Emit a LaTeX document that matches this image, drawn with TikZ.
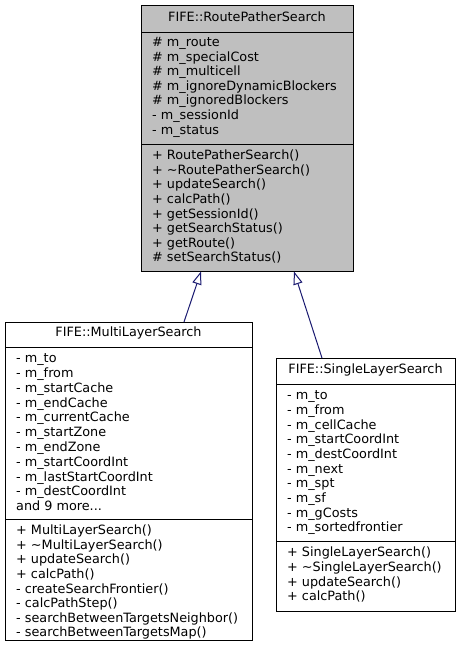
\documentclass[tikz,border=0pt]{standalone}
\usepackage{fontspec}
\setmainfont{DejaVu Sans}
\usetikzlibrary{arrows.meta}
\definecolor{boxgray}{HTML}{BFBFBF}
\definecolor{edgeblue}{HTML}{191970}
\begin{document}
\begin{tikzpicture}[x=1pt,y=1pt,
  classbox/.style={draw=black, line width=1pt, rectangle, anchor=north west, inner sep=0pt, outer sep=0pt},
  divider/.style={line width=1pt},
  member/.style={anchor=west, inner sep=0pt, font=\fontsize{12.8}{14}\selectfont, text height=9.5pt, text depth=2.7pt},
  titletext/.style={anchor=center, inner sep=0pt, font=\fontsize{12.8}{14}\selectfont, text height=9.5pt, text depth=2.7pt},
  inherit/.style={draw=edgeblue, line width=1pt, -{Triangle[open, length=13pt, width=9.3pt, fill=white]}}
]
\useasboundingbox (0,0) rectangle (461,-653);
% ---------- top class ----------
\node[classbox, fill=boxgray, minimum width=212pt, minimum height=266pt] (top) at (141,-5) {};
\draw[divider] (141,-32) -- (353,-32);
\draw[divider] (141,-144) -- (353,-144);
\node[titletext] (toptitle) at (247,-18.5) {FIFE::RoutePatherSearch};
\foreach \t [count=\i] in {\# m\_route,\# m\_specialCost,\# m\_multicell,\# m\_ignoreDynamicBlockers,\# m\_ignoredBlockers,- m\_sessionId,- m\_status}
  \node[member] (topa\i) at (152,{-43.3-14.55*(\i-1)}) {\t};
\foreach \t [count=\i] in {+ RoutePatherSearch(),+ \textasciitilde RoutePatherSearch(),+ updateSearch(),+ calcPath(),+ getSessionId(),+ getSearchStatus(),+ getRoute(),\# setSearchStatus()}
  \node[member] (topm\i) at (152,{-156.3-14.6*(\i-1)}) {\t};
% ---------- multi layer ----------
\node[classbox, fill=white, minimum width=247pt, minimum height=318pt] (multi) at (5,-322) {};
\draw[divider] (5,-347) -- (252,-347);
\draw[divider] (5,-519) -- (252,-519);
\node[titletext] (multititle) at (128.5,-333.5) {FIFE::MultiLayerSearch};
\foreach \t [count=\i] in {- m\_to,- m\_from,- m\_startCache,- m\_endCache,- m\_currentCache,- m\_startZone,- m\_endZone,- m\_startCoordInt,- m\_lastStartCoordInt,- m\_destCoordInt,and 9 more.{}.{}.}
  \node[member] (multia\i) at (16,{-359.3-14.8*(\i-1)}) {\t};
\foreach \t [count=\i] in {+ MultiLayerSearch(),+ \textasciitilde MultiLayerSearch(),+ updateSearch(),+ calcPath(),- createSearchFrontier(),- calcPathStep(),- searchBetweenTargetsNeighbor(),- searchBetweenTargetsMap()}
  \node[member] (multim\i) at (16,{-531.3-14.6*(\i-1)}) {\t};
% ---------- single layer ----------
\node[classbox, fill=white, minimum width=179pt, minimum height=253pt] (single) at (276,-358) {};
\draw[divider] (276,-384) -- (455,-384);
\draw[divider] (276,-541) -- (455,-541);
\node[titletext] (singletitle) at (365.5,-370.5) {FIFE::SingleLayerSearch};
\foreach \t [count=\i] in {- m\_to,- m\_from,- m\_cellCache,- m\_startCoordInt,- m\_destCoordInt,- m\_next,- m\_spt,- m\_sf,- m\_gCosts,- m\_sortedfrontier}
  \node[member] (singlea\i) at (287,{-396.3-14.67*(\i-1)}) {\t};
\foreach \t [count=\i] in {+ SingleLayerSearch(),+ \textasciitilde SingleLayerSearch(),+ updateSearch(),+ calcPath()}
  \node[member] (singlem\i) at (287,{-553.3-14.67*(\i-1)}) {\t};
% ---------- connectors ----------
\coordinate (mstart) at (184,-322);
\coordinate (mend) at (201,-271.5);
\coordinate (sstart) at (322,-358);
\coordinate (send) at (294,-271.5);
\draw[inherit] (mstart) -- (mend);
\draw[inherit] (sstart) -- (send);
\end{tikzpicture}
\end{document}
